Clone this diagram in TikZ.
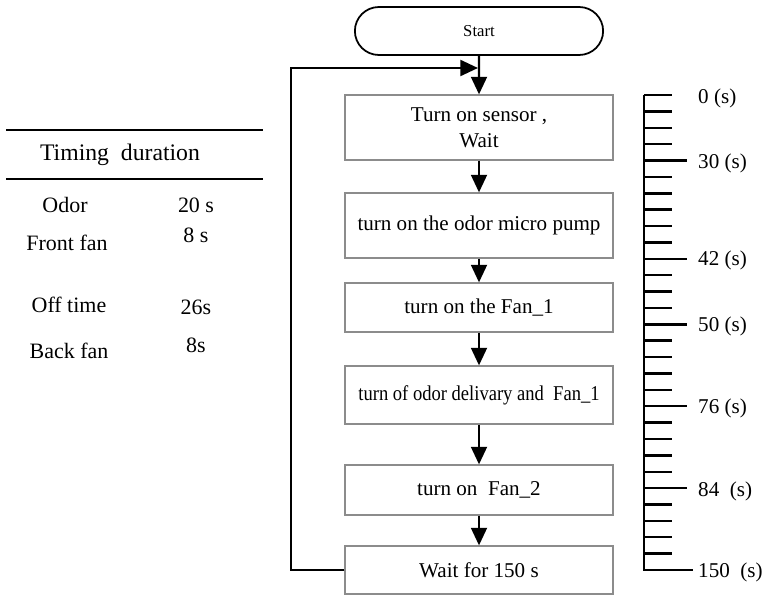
\documentclass[tikz,border=0pt]{standalone}
\usepackage{fontspec}
\setmainfont{Liberation Serif}
\usetikzlibrary{shapes}
\usetikzlibrary{positioning}
\usetikzlibrary{arrows.meta}

\begin{document}
\begin{tikzpicture}[x=0.02cm, y=-0.02cm, black, line width=1.4pt,
    box/.style={rectangle, draw=black!45, line width=0.7pt, minimum width=5.36cm, inner sep=2pt, align=center, font=\fontsize{12}{15}\selectfont},
    flow/.style={-{Triangle[length=10pt, width=9pt]}, line width=1.4pt},
    tlabel/.style={font=\fontsize{12.5}{15}\selectfont},
    slabel/.style={anchor=west, inner sep=0pt, font=\fontsize{12}{14}\selectfont}]

    \useasboundingbox (0,0) rectangle (764,598);

    % flow chart
    \node (S) at (479,31) [rounded rectangle, draw, line width=1pt, minimum width=5.2cm, minimum height=0.96cm, font=\fontsize{9.5}{11}\selectfont] {Start};

    \node (B1) at (479,127.5) [box, minimum height=1.3cm] {Turn on sensor ,\\ Wait};
    \node (B2) at (479,225.5) [box, minimum height=1.3cm] {turn on the odor micro pump};
    \node (B3) at (479,307.5) [box, minimum height=0.98cm] {turn on the Fan\_1};
    \node (B4) at (479,395)   [box, minimum height=1.16cm] {\scalebox{0.88}[1]{turn of odor delivary and \ Fan\_1}};
    \node (B5) at (479,490)   [box, minimum height=1.0cm] {turn on \ Fan\_2};
    \node (B6) at (479,570)   [box, minimum height=0.96cm] {Wait for 150 s};

    \draw[flow] (S) -- (B1);
    \draw[flow] (B1) -- (B2);
    \draw[flow] (B2) -- (B3);
    \draw[flow] (B3) -- (B4);
    \draw[flow] (B4) -- (B5);
    \draw[flow] (B5) -- (B6);

    % loop back to the top
    \coordinate (L) at (291,68);
    \coordinate (J) at (478,68);
    \draw[flow] (B6.west) -| (L) -- (J);

    % time scale
    \draw (644,95) -- (644,570) -- (693,570);
    \foreach \i in {0,...,28}
        \draw (644,95+16.38*\i) -- ++(28,0);
    \foreach \i in {4,10,14,19,24}
        \draw (644,95+16.38*\i) -- ++(43,0);

    \node (t0)   at (697,98)  [slabel] {0 (s)};
    \node (t30)  at (697,163) [slabel] {30 (s)};
    \node (t42)  at (697,260) [slabel] {42 (s)};
    \node (t50)  at (697,326) [slabel] {50 (s)};
    \node (t76)  at (697,408) [slabel] {76 (s)};
    \node (t84)  at (697,491) [slabel] {84 \ (s)};
    \node (t150) at (697,572) [slabel] {150 \ (s)};

    % timing table
    \draw (6,130) -- (263,130);
    \draw (6,179) -- (263,179);
    \node (head) at (120,155) [font=\fontsize{13.5}{16}\selectfont] {Timing \ duration};

    \node (odor)  at (65,205) [tlabel] {Odor};
    \node (front) at (67,243) [tlabel] {Front fan};
    \node (off)   at (69,305) [tlabel] {Off time};
    \node (back)  at (69,351) [tlabel] {Back fan};

    \node (odorT)  at (196,205) [tlabel] {20 s};
    \node (frontT) at (196,235) [tlabel] {8 s};
    \node (offT)   at (196,307) [tlabel] {26s};
    \node (backT)  at (196,345) [tlabel] {8s};

\end{tikzpicture}
\end{document}
